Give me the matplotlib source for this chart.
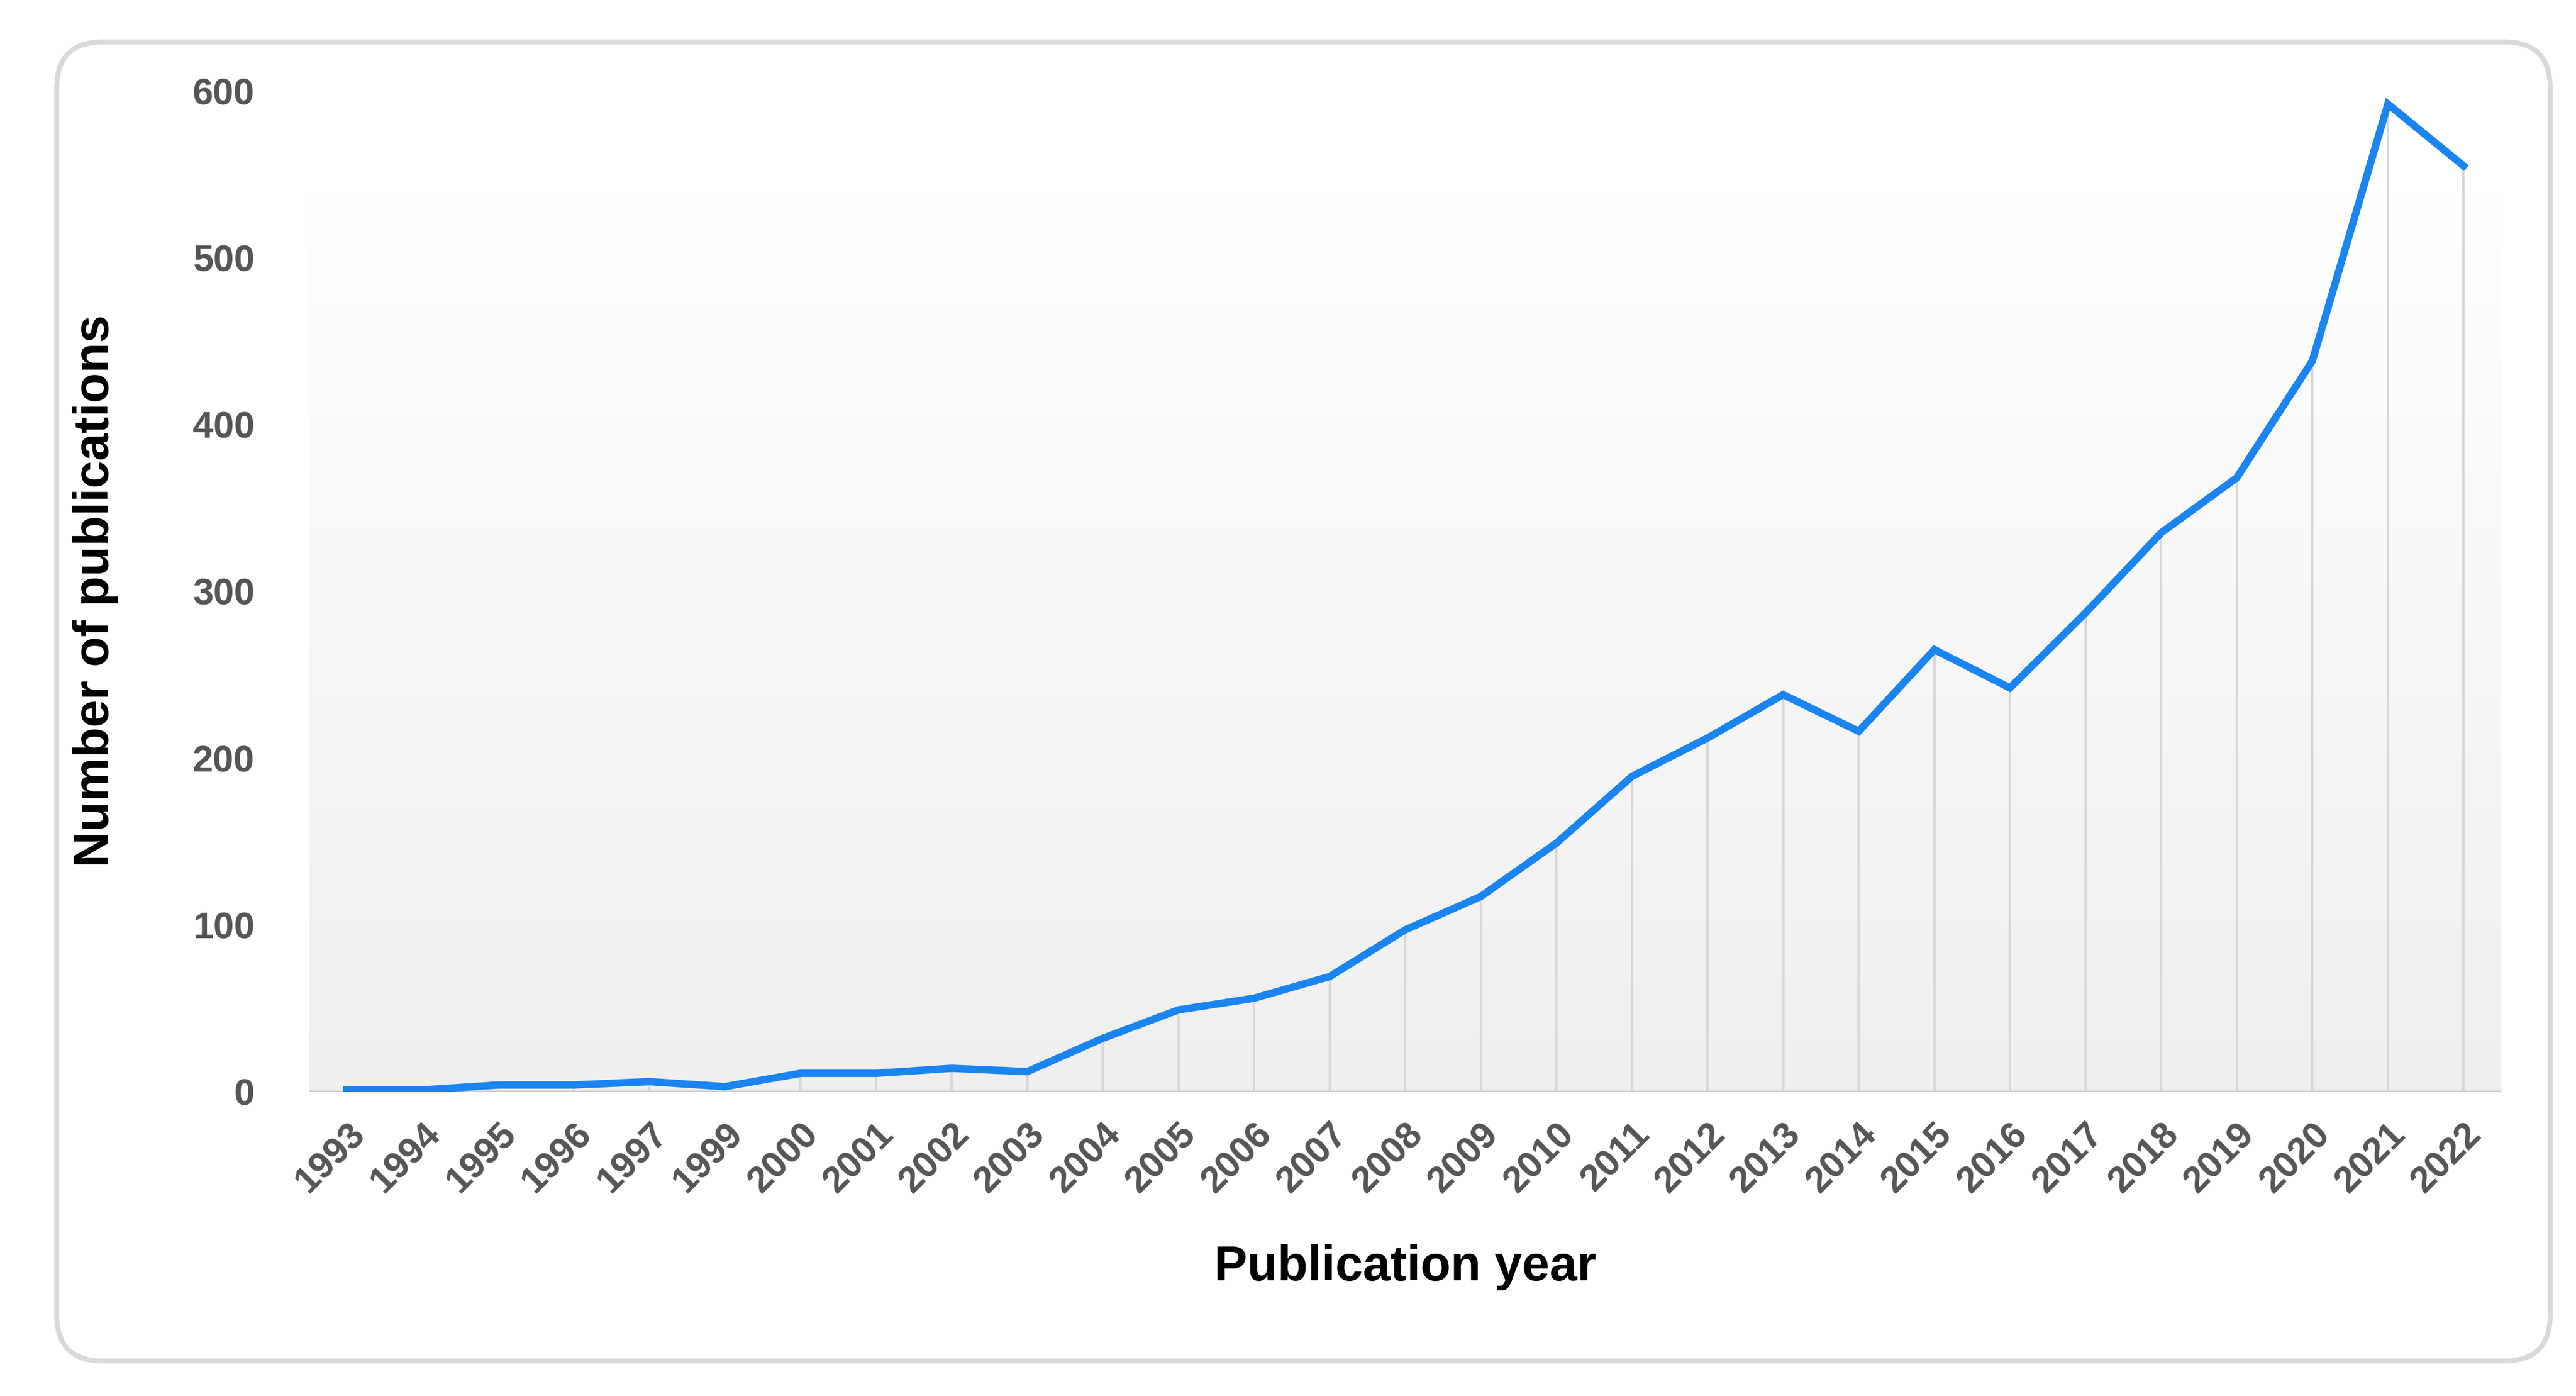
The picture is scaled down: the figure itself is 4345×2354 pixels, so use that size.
import matplotlib
matplotlib.use("Agg")
import matplotlib.pyplot as plt
import numpy as np
from matplotlib.patches import FancyBboxPatch

years = ["1993","1994","1995","1996","1997","1999","2000","2001","2002","2003","2004","2005","2006","2007","2008","2009","2010","2011","2012","2013","2014","2015","2016","2017","2018","2019","2020","2021","2022"]
counts = [1,1,4,4,6,3,11,11,14,12,32,49,56,69,97,117,149,189,212,238,216,265,242,287,335,368,438,592,555]

plt.rcParams['font.family'] = ['Liberation Sans', 'DejaVu Sans']
fig = plt.figure(figsize=(4345/300, 2354/300), dpi=300)
box = FancyBboxPatch((0.022, 0.025), 0.968, 0.945, boxstyle="round,pad=0,rounding_size=0.018",
                     mutation_aspect=4345/2354, transform=fig.transFigure,
                     fc='white', ec='#d9d9d9', lw=2.0, zorder=-10)
fig.patches.append(box)
ax = fig.add_axes([0.12, 0.218, 0.851, 0.717], zorder=5)
ax.set_facecolor('none')
x = np.arange(len(years))
ax.set_xlim(-0.5, len(years) - 0.5)
ax.set_ylim(0, 600)
grad = np.linspace(0, 1, 256).reshape(-1, 1)
ax.imshow(grad, extent=[-0.5, len(years)-0.5, 0, 540], aspect='auto', origin='lower',
          cmap=matplotlib.colors.LinearSegmentedColormap.from_list('g', ['#efefef', '#ffffff']), zorder=0)
ax.set_ylim(0, 600)
ax.vlines(x, 0, counts, color='#d8d8d8', lw=1.0, zorder=1)
ax.plot(x, counts, color='#1a84f0', lw=3.0, zorder=3, solid_joinstyle='miter')
ax.axhline(0, color='#d0d0d0', lw=1.2, zorder=2)
for s in ax.spines.values():
    s.set_visible(False)
ax.set_xticks(x)
ax.set_xticklabels(years, rotation=45, ha='right', rotation_mode='anchor')
ax.set_yticks([0,100,200,300,400,500,600])
ax.tick_params(axis='both', length=0, labelsize=15, labelcolor='#555555', pad=10)
for t in ax.get_xticklabels() + ax.get_yticklabels():
    t.set_fontweight('bold')
ax.tick_params(axis='y', pad=22)
ax.set_xlabel('Publication year', fontsize=20, fontweight='bold', labelpad=18)
ax.set_ylabel('Number of publications', fontsize=20, fontweight='bold', labelpad=30)
fig.savefig('out.png', dpi=300)
